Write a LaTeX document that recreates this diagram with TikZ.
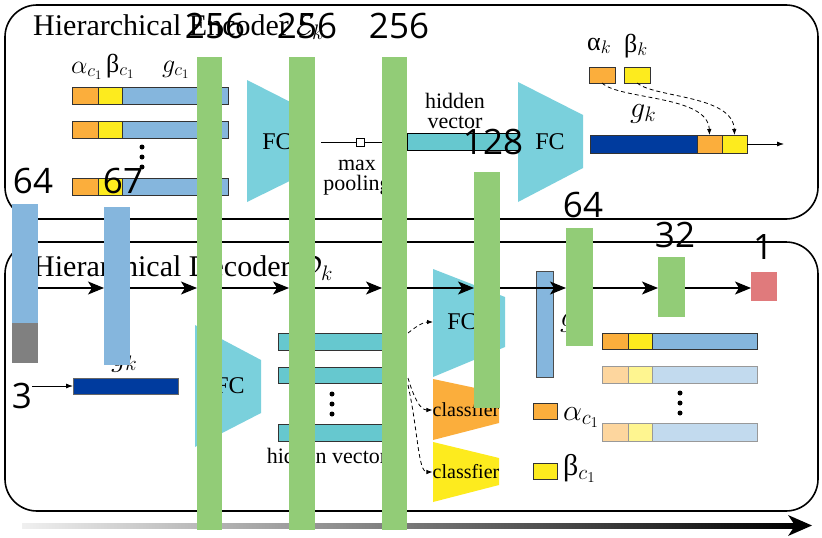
\RequirePackage{fix-cm}
\documentclass[tikz,border=0pt]{standalone}
\usepackage{fontspec}
\setmainfont{Liberation Serif}
\newfontfamily\numfont{Open Sans}
\usetikzlibrary{arrows.meta,calc}
\definecolor{cgreen}{HTML}{92CC77}
\definecolor{clblue}{HTML}{85B6DD}
\definecolor{corange}{HTML}{FBAE3C}
\definecolor{cyellow}{HTML}{FDEB1E}
\definecolor{cdblue}{HTML}{003B9E}
\definecolor{cfc}{HTML}{7AD0DC}
\definecolor{cteal}{HTML}{66C8CF}
\definecolor{cred}{HTML}{E07A7C}
\definecolor{cgray}{HTML}{808080}
\definecolor{forange}{HTML}{FDD69E}
\definecolor{fyellow}{HTML}{FEF590}
\definecolor{fblue}{HTML}{C2DAEE}
\pgfdeclarelayer{bars}
\pgfdeclarelayer{top}
\pgfsetlayers{main,bars,top}
\newcommand\bx[6]{\node[#1, minimum width={(#4)-(#2)}, minimum height={(#5)-(#3)}] (#6) at (#2,#3) {};}
\tikzset{
  box/.style={inner sep=0pt, outer sep=0pt, anchor=north west},
  seg/.style={box, draw=black!80, line width=0.9pt},
  fseg/.style={box, draw=black!40, line width=0.9pt},
  gbar/.style={box, fill=cgreen},
  bbar/.style={box, fill=clblue},
  frame/.style={draw=black, line width=1.6pt, rounded corners=32pt},
  fcshape/.style={fill=cfc},
  fctext/.style={font=\fontsize{24}{24}\selectfont, inner sep=0pt},
  small/.style={font=\fontsize{22}{20}\selectfont, inner sep=0pt, align=center},
  cls/.style={font=\fontsize{20}{20}\selectfont, inner sep=0pt},
  num/.style={font=\numfont\fontsize{35}{35}\selectfont, inner sep=0pt},
  lab/.style={font=\fontsize{26}{28}\selectfont, inner sep=0pt, anchor=base west},
  title/.style={font=\fontsize{30}{32}\selectfont, inner sep=0pt, anchor=base west},
  bigarrow/.style={line width=1.3pt, -{Stealth[length=16pt,width=13pt,inset=4pt]}},
  thinarrow/.style={line width=0.8pt, -{Latex[length=7pt,width=5pt]}},
  dasharrow/.style={line width=0.8pt, dash pattern=on 4pt off 3pt, -{Latex[length=6pt,width=4.5pt]}},
  dot/.style={circle, fill=black, inner sep=0pt, minimum size=5pt}
}
\begin{document}
\begin{tikzpicture}[x=1pt,y=-1pt]
\useasboundingbox (0,0) rectangle (822,538);
\fill[white] (0,0) rectangle (822,538);

% ---------------- bars (layer above contents)
\begin{pgfonlayer}{bars}
\bx{bbar}{12}{204}{38}{363}{b64}
\fill[cgray] (12,323) rectangle (38,363);
\bx{bbar}{104}{207}{130}{365}{b67}
\bx{gbar}{197}{57}{222}{530}{g1}
\bx{gbar}{289}{57}{315}{530}{g2}
\bx{gbar}{382}{57}{407}{530}{g3}
\bx{gbar}{474}{172}{500}{408}{g4}
\bx{gbar}{566}{228}{593}{346}{g5}
\bx{gbar}{658}{257}{685}{317}{g6}
\bx{box, fill=cred}{751}{272}{777}{301}{r1}
\end{pgfonlayer}

% ---------------- frames and titles
\draw[frame] (5,5) rectangle (818,219);
\draw[frame] (5,242) rectangle (818,511);
\node[title] (tenc) at (33,35) {Hierarchical Encoder $\mathcal{E}_k$};
\node[title] (tdec) at (33,276) {Hierarchical Decoder $\mathcal{D}_k$};

% ---------------- encoder input rows
\foreach \t/\n in {87/1,121/2,178/3}{
  \bx{seg, fill=corange}{72}{\t}{98}{\t+17}{ro\n}
  \bx{seg, fill=cyellow}{98}{\t}{122}{\t+17}{ry\n}
  \bx{seg, fill=clblue}{122}{\t}{228}{\t+17}{rb\n}
}
\node[lab] (lac) at (71,73) {$\alpha_{c_1}$};
\node[lab] (lbc) at (106,72) {β$_{c_1}$};
\node[lab] (lgc) at (162,72) {$g_{c_1}$};
\node[dot] (ed1) at (142,147) {};
\node[dot] (ed2) at (142,157) {};
\node[dot] (ed3) at (142,167) {};

% FC 1
\fill[fcshape] (247,80) -- (312,113) -- (312,170) -- (247,202) -- cycle;
\node[fctext] (fc1) at (277,142) {FC};

% max pooling
\node[draw=black, fill=white, line width=0.8pt, minimum size=8pt, inner sep=0pt] (mp) at (360,142) {};
\draw[line width=0.8pt] ($(g2.east|-mp)+(6,0)$) -- (mp) -- (g3.west|-mp);
\node[small] (mpt) at (357,178) {max\\pooling};

% hidden vector (encoder)
\node[small] (hvt) at (455,111) {hidden\\vector};
\bx{box, fill=cteal, draw=black, line width=0.9pt}{407}{133}{526}{150}{hvb}

% FC 2
\fill[fcshape] (518,82) -- (583,115) -- (583,168) -- (518,202) -- cycle;
\node[fctext] (fc2) at (550,142) {FC};

% g_k output
\bx{seg, fill=cdblue}{590}{135}{697}{153}{gkb}
\bx{seg, fill=corange}{697}{135}{722}{153}{gko}
\bx{seg, fill=cyellow}{722}{135}{747}{153}{gky}
\coordinate (gkend) at (784,144);
\draw[thinarrow] (gky.east) -- (gkend);
\node[lab, font=\fontsize{30}{30}\selectfont] (lgk) at (630,117) {$g_k$};
\bx{seg, fill=corange}{589}{67}{615}{83}{ak}
\bx{seg, fill=cyellow}{624}{67}{650}{83}{bk}
\node[lab] (lak) at (587,50) {α$_k$};
\node[lab] (lbk) at (624,52) {β$_k$};
\draw[dasharrow] (ak.south) .. controls (620,100) and (708,95) .. (gko.north);
\draw[dasharrow] (bk.south) .. controls (655,98) and (733,95) .. (gky.north);

% ---------------- decoder contents
\node[lab, font=\fontsize{30}{30}\selectfont] (lgkd) at (111,366) {$g_k$};
\node[lab, font=\fontsize{30}{30}\selectfont] (lgs) at (560,326) {$g$};
\bx{box, fill=cdblue, draw=black!60, line width=0.8pt}{73}{378}{178}{394}{gkd}
\node[num] (n3) at (22,396) {3};
\draw[thinarrow] (n3.east|-gkd) -- (gkd.west);

% FC 3
\fill[fcshape] (195,325) -- (261,360) -- (261,413) -- (195,447) -- cycle;
\node[fctext] (fc3) at (230,386) {FC};

% hidden vectors (decoder)
\bx{seg, fill=cteal}{278}{333}{395}{350}{hd1}
\bx{seg, fill=cteal}{278}{367}{395}{383}{hd2}
\bx{seg, fill=cteal}{278}{424}{395}{441}{hd3}
\node[dot] (dd1) at (332,394) {};
\node[dot] (dd2) at (332,404) {};
\node[dot] (dd3) at (332,414) {};
\node[small] (hdt) at (327,456) {hidden vector};

% FC 4 and classifiers
\fill[fcshape] (433,269) -- (505,297) -- (505,347) -- (433,377) -- cycle;
\node[fctext] (fc4) at (462,322) {FC};
\coordinate (fc4w) at (433,322);
\fill[corange] (433,379) -- (499,393) -- (499,423) -- (433,440) -- cycle;
\node[cls] (cl1) at (466,410) {classfier};
\fill[cyellow] (433,442) -- (499,458) -- (499,485) -- (433,502) -- cycle;
\node[cls] (cl2) at (466,472) {classfier};

% small blue bar
\bx{box, fill=clblue, draw=black!70, line width=0.9pt}{536}{271}{553}{377}{sb}

% legend
\bx{seg, fill=corange}{533}{403}{557}{419}{lgo}
\bx{seg, fill=cyellow}{533}{463}{557}{479}{lgy}
\node[lab, font=\fontsize{30}{30}\selectfont] (lga) at (563,420) {$\alpha_{c_1}$};
\node[lab, font=\fontsize{30}{30}\selectfont] (lgb) at (563,475) {β$_{c_1}$};

% output rows
\bx{seg, fill=corange}{602}{333}{628}{349}{oo1}
\bx{seg, fill=cyellow}{628}{333}{652}{349}{oy1}
\bx{seg, fill=clblue}{652}{333}{757}{349}{ob1}
\bx{fseg, fill=forange}{602}{366}{628}{383}{oo2}
\bx{fseg, fill=fyellow}{628}{366}{652}{383}{oy2}
\bx{fseg, fill=fblue}{652}{366}{757}{383}{ob2}
\node[dot] (od1) at (680,393) {};
\node[dot] (od2) at (680,403) {};
\node[dot] (od3) at (680,413) {};
\bx{fseg, fill=forange}{602}{423}{628}{441}{oo3}
\bx{fseg, fill=fyellow}{628}{423}{652}{441}{oy3}
\bx{fseg, fill=fblue}{652}{423}{757}{441}{ob3}

% bottom gradient arrow
\shade[left color=black!6, right color=black] (22,523) rectangle (796,528);
\fill[black] (812,525.5) -- (788,515) -- (795,525.5) -- (788,536) -- cycle;

% ---------------- top layer: arrows and numbers
\begin{pgfonlayer}{top}
\coordinate (ay) at (0,288);
\draw[bigarrow] (b64.east|-ay) -- (b67.west|-ay);
\draw[bigarrow] (b67.east|-ay) -- (g1.west|-ay);
\draw[bigarrow] (g1.east|-ay) -- (g2.west|-ay);
\draw[bigarrow] (g2.east|-ay) -- (g3.west|-ay);
\draw[bigarrow] (g3.east|-ay) -- (g4.west|-ay);
\draw[bigarrow] (g4.east|-ay) -- (g5.west|-ay);
\draw[bigarrow] (g5.east|-ay) -- (g6.west|-ay);
\draw[bigarrow] (g6.east|-ay) -- (r1.west|-ay);
\coordinate (s1) at (408,333);
\coordinate (s2) at (408,378);
\coordinate (s3) at (408,385);
\draw[dasharrow] (s1) .. controls (418,325) and (424,322) .. (fc4w);
\draw[dasharrow] (s2) .. controls (414,398) and (420,410) .. (cl1.west);
\draw[dasharrow] (s3) .. controls (418,430) and (418,472) .. (cl2.west);
\node[num] (n64a) at (33,181) {64};
\node[num] (n67) at (123,181) {67};
\node[num] (n256a) at (215,26) {256};
\node[num] (n256b) at (307,26) {256};
\node[num] (n256c) at (399,26) {256};
\node[num] (n128) at (493,142) {128};
\node[num] (n64b) at (583,205) {64};
\node[num] (n32) at (675,235) {32};
\node[num] (n1) at (763,247) {1};
\end{pgfonlayer}
\end{tikzpicture}
\end{document}
